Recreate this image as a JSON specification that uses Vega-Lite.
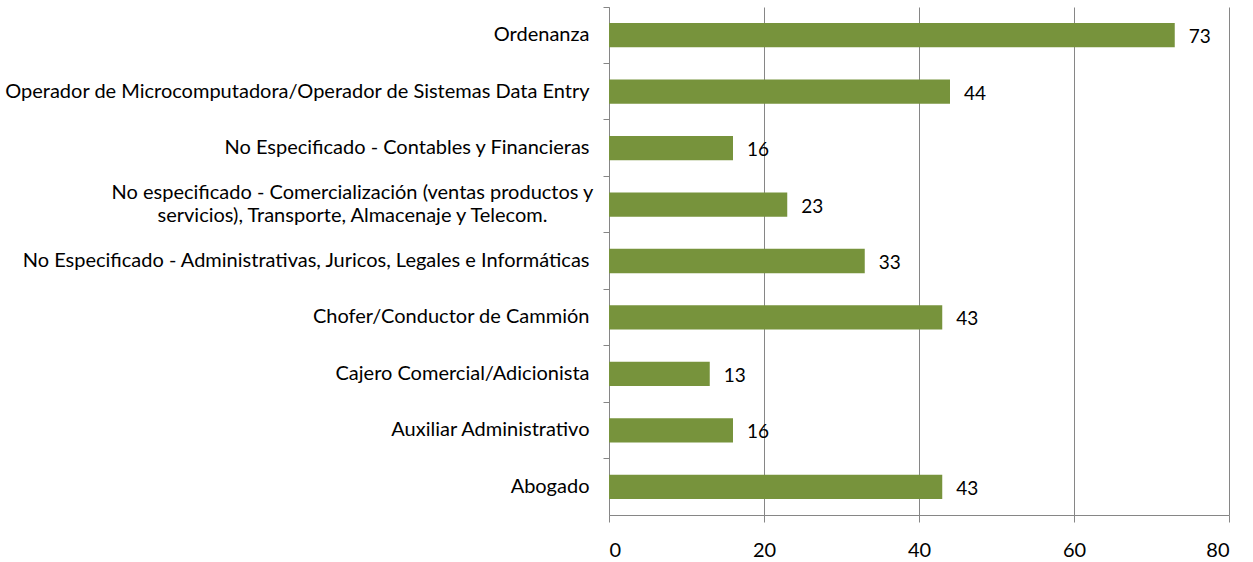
{
  "$schema": "https://vega.github.io/schema/vega-lite/v6.json",
  "autosize": "none",
  "width": 620,
  "height": 508,
  "padding": {"left": 609, "top": 7, "right": 24, "bottom": 47},
  "background": "white",
  "config": {"view": {"stroke": null}, "font": "Lato"},
  "data": {"values": [
    {"ocupacion": "Ordenanza", "valor": 73},
    {"ocupacion": "Operador de Microcomputadora/Operador  de Sistemas Data Entry", "valor": 44},
    {"ocupacion": "No Especificado - Contables  y Financieras", "valor": 16},
    {"ocupacion": "No especificado -  Comercialización (ventas productos  y|servicios), Transporte,  Almacenaje y Telecom.", "valor": 23},
    {"ocupacion": "No Especificado - Administrativas, Juricos,  Legales e Informáticas", "valor": 33},
    {"ocupacion": "Chofer/Conductor de Cammión", "valor": 43},
    {"ocupacion": "Cajero Comercial/Adicionista", "valor": 13},
    {"ocupacion": "Auxiliar Administrativo", "valor": 16},
    {"ocupacion": "Abogado", "valor": 43}
  ]},
  "encoding": {
    "y": {
      "field": "ocupacion", "type": "nominal", "sort": null,
      "scale": {"paddingInner": 0, "paddingOuter": 0},
      "axis": {
        "title": null,
        "labelExpr": "split(datum.label, '|')",
        "labelFontSize": 20,
        "labelColor": "#000000",
        "labelPadding": {"condition": {"test": "indexof(datum.value, '|') >= 0", "value": 251}, "value": 14},
        "labelAlign": {"condition": {"test": "indexof(datum.value, '|') >= 0", "value": "center"}, "value": "right"},
        "labelLimit": 700,
        "labelLineHeight": 23,
        "labelOffset": {"condition": {"test": "indexof(datum.value, '|') >= 0", "value": -12}, "value": 0},
        "tickSize": 6,
        "tickColor": "#868686",
        "domainColor": "#868686",
        "bandPosition": 0,
        "grid": false
      }
    },
    "x": {
      "field": "valor", "type": "quantitative",
      "scale": {"domain": [0, 80], "nice": false},
      "axis": {
        "title": null,
        "values": [0, 20, 40, 60, 80],
        "labelFontSize": 20,
        "labelColor": "#000000",
        "labelPadding": 18,
        "tickSize": 7,
        "tickColor": "#868686",
        "domainColor": "#868686",
        "grid": true,
        "gridColor": "#868686",
        "gridOpacity": 1
      }
    }
  },
  "layer": [
    {"mark": {"type": "bar", "color": "#77933C", "height": {"band": 0.43}}},
    {"mark": {"type": "text", "align": "left", "dx": 14, "fontSize": 19, "color": "#000000", "dy": 2},
     "encoding": {"text": {"field": "valor", "type": "quantitative"}}}
  ]
}
